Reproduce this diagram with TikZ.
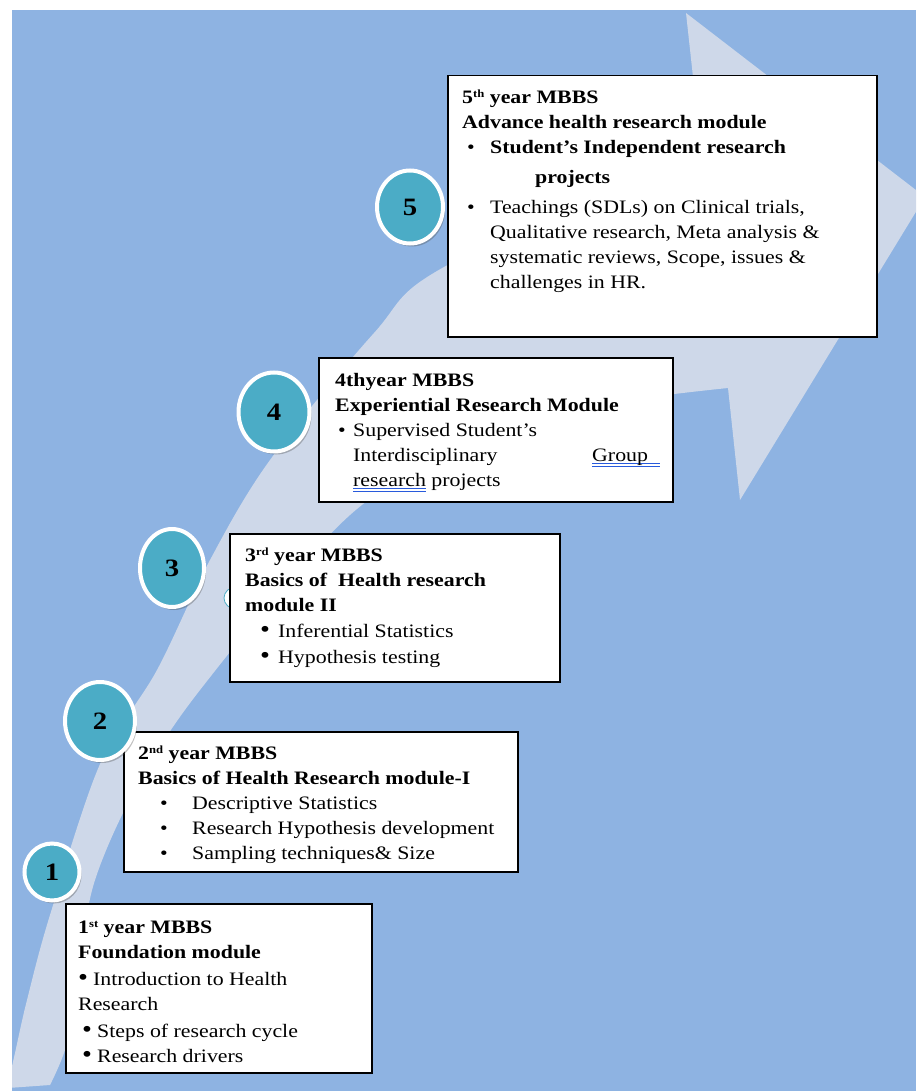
\documentclass[tikz,border=0pt]{standalone}
\usepackage{fontspec}
\usepackage{graphicx}
\setmainfont[FakeStretch=1.15]{Liberation Serif}
\usetikzlibrary{shapes.geometric,shadows}

\definecolor{bgblue}{RGB}{142,179,226}
\definecolor{arrowgray}{RGB}{206,216,233}
\definecolor{ballteal}{RGB}{75,172,198}
\definecolor{spellblue}{RGB}{40,90,220}

\newcommand{\itembul}[2]{\hspace*{#1}\makebox[#2][l]{\textbullet}}
\newcommand{\bigbul}[2]{\hspace*{#1}\makebox[#2][l]{\scalebox{1.3}{\textbullet}}}
\newcommand{\ord}[1]{\raisebox{6pt}{\fontsize{11}{11}\selectfont #1}}
\newcommand{\gramerr}[1]{\sbox0{#1}\rlap{\color{spellblue}\rule[-2.5pt]{\wd0}{0.8pt}}\rlap{\color{spellblue}\rule[-5.5pt]{\wd0}{0.8pt}}\usebox0}

\tikzset{
  card/.style={rectangle, draw=black, line width=1.5pt, fill=white, inner sep=0pt, anchor=north west},
  cardtext/.style={anchor=north west, inner sep=0pt, align=left, font=\fontsize{19}{25}\selectfont},
  badge/.style={ellipse, fill=ballteal, draw=white, line width=4pt, inner sep=0pt,
    font=\fontsize{25}{25}\selectfont\bfseries,
    drop shadow={shadow xshift=2pt, shadow yshift=-3pt, opacity=0.35, fill=black!70}}
}

\begin{document}
\begin{tikzpicture}[x=1pt,y=-1pt]
\useasboundingbox (0,0) rectangle (916,1091);
\fill[bgblue] (12,10) rectangle (916,1091);

% big curved arrow behind the boxes
\begin{scope}
\clip (12,10) rectangle (916,1091);
\fill[arrowgray] (686,13) -- (925,197) -- (740,500) -- (728,388)
  -- plot[smooth, tension=0.55] coordinates {(728,388) (600,405) (480,440) (350,515) (200,690) (135,790) (95,880) (80,960) (68,1040) (50,1085)}
  -- (8,1088)
  -- plot[smooth, tension=0.55] coordinates {(10,1075) (15,1053) (27,1000) (50,915) (100,764) (157,670) (210,560) (270,460) (374,333) (444,267) (701,150)}
  -- cycle;
\end{scope}

\fill[white] (236,598) ellipse (12 and 11);
\draw[ballteal, line width=0.8pt] (236,598) ellipse (12 and 11);

% year boxes
\node[card, minimum width=429, minimum height=261] (box5) at (447,75) {};
\node[card, minimum width=354, minimum height=144] (box4) at (318,357) {};
\node[card, minimum width=330, minimum height=148] (box3) at (229,533) {};
\node[card, minimum width=394, minimum height=140] (box2) at (123,731) {};
\node[card, minimum width=306, minimum height=169] (box1) at (65,903) {};

\node[cardtext] (txt5) at (462,87) {\rule{0pt}{16pt}\textbf{5\ord{th} year MBBS}\\
\textbf{Advance health research module}\\
\itembul{5pt}{23pt}\textbf{Student's Independent research}\\[5pt]
\hspace*{73pt}\textbf{projects}\\[5pt]
\itembul{5pt}{23pt}Teachings (SDLs) on Clinical trials,\\
\hspace*{28pt}Qualitative research, Meta analysis \&\\
\hspace*{28pt}systematic reviews, Scope, issues \&\\
\hspace*{28pt}challenges in HR.};

\node[cardtext] (txt4) at (335,370) {\rule{0pt}{16pt}\textbf{4thyear MBBS}\\
\textbf{Experiential Research Module}\\
\itembul{3pt}{15pt}Supervised Student's\\
\hspace*{18pt}\makebox[239pt][l]{Interdisciplinary}\gramerr{Group\hspace{12pt}}\\
\hspace*{18pt}\gramerr{research} projects};

\node[cardtext] (txt3) at (245,545) {\rule{0pt}{16pt}\textbf{3\ord{rd} year MBBS}\\
\textbf{Basics of\ \ Health research}\\
\textbf{module II}\\[1pt]
\bigbul{15pt}{18pt}Inferential Statistics\\[1pt]
\bigbul{15pt}{18pt}Hypothesis testing};

\node[cardtext] (txt2) at (138,743) {\rule{0pt}{16pt}\textbf{2\ord{nd} year MBBS}\\
\textbf{Basics of Health Research module-I}\\
\itembul{22pt}{32pt}Descriptive Statistics\\
\itembul{22pt}{32pt}Research Hypothesis development\\
\itembul{22pt}{32pt}Sampling techniques\& Size};

\node[cardtext] (txt1) at (78,917) {\rule{0pt}{16pt}\textbf{1\ord{st} year MBBS}\\
\textbf{Foundation module}\\[2pt]
\bigbul{0pt}{15pt}Introduction to Health\\
Research\\[2pt]
\bigbul{4pt}{15pt}Steps of research cycle\\
\bigbul{4pt}{15pt}Research drivers};

% numbered steps
\node[badge, minimum width=66, minimum height=73] (ball5) at (410,207) {5};
\node[badge, minimum width=71, minimum height=79] (ball4) at (274,412) {4};
\node[badge, minimum width=64, minimum height=78] (ball3) at (172,568) {3};
\node[badge, minimum width=70, minimum height=78] (ball2) at (100,721) {2};
\node[badge, minimum width=55, minimum height=57] (ball1) at (52,872) {\raisebox{-6pt}{1}};
\end{tikzpicture}
\end{document}
